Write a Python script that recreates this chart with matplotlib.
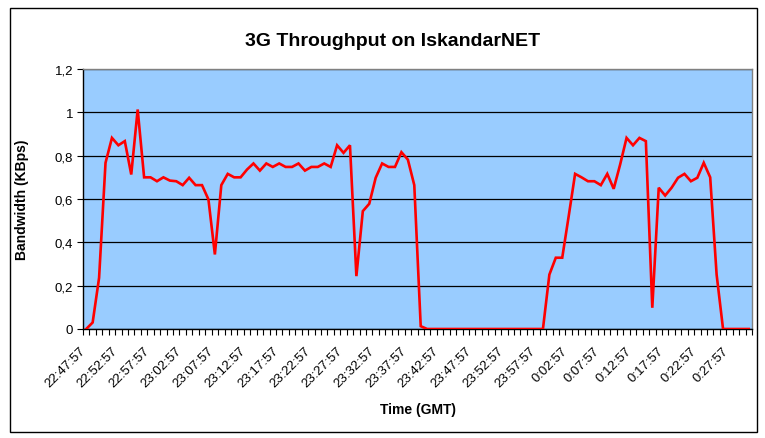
import numpy as np
import matplotlib
matplotlib.use("Agg")
import matplotlib.pyplot as plt
from matplotlib.patches import Rectangle
import matplotlib.transforms as mtransforms

plt.rcParams['font.family'] = ['Liberation Sans', 'DejaVu Sans']

# ---- data (one point per minute, starting 22:47:57) ----
bandwidth = [
    0.0, 0.03, 0.236, 0.767, 0.882, 0.848, 0.867, 0.713, 1.013, 0.70,
    0.70, 0.682, 0.70, 0.685, 0.682, 0.664, 0.698, 0.664, 0.664, 0.598,
    0.344, 0.664, 0.716, 0.70, 0.70, 0.736, 0.764, 0.731, 0.764, 0.748,
    0.764, 0.748, 0.748, 0.764, 0.731, 0.748, 0.748, 0.764, 0.748, 0.848,
    0.813, 0.848, 0.244, 0.544, 0.578, 0.698, 0.764, 0.748, 0.748, 0.816,
    0.782, 0.664, 0.013,
    0.0, 0.0, 0.0, 0.0, 0.0, 0.0, 0.0, 0.0, 0.0, 0.0,
    0.0, 0.0, 0.0, 0.0, 0.0, 0.0, 0.0, 0.0, 0.0,
    0.251, 0.329, 0.329, 0.52, 0.716, 0.70, 0.682, 0.682, 0.664, 0.716,
    0.647, 0.759, 0.882, 0.848, 0.882, 0.867, 0.098, 0.652, 0.616, 0.652,
    0.698, 0.716, 0.682, 0.698, 0.767, 0.70, 0.251,
    0.0, 0.0, 0.0, 0.0, 0.0,
]
time_labels = [
    "22:47:57", "22:52:57", "22:57:57", "23:02:57", "23:07:57", "23:12:57",
    "23:17:57", "23:22:57", "23:27:57", "23:32:57", "23:37:57", "23:42:57",
    "23:47:57", "23:52:57", "23:57:57", "0:02:57", "0:07:57", "0:12:57",
    "0:17:57", "0:22:57", "0:27:57",
]
label_step = 5
y_ticks = [0, 0.2, 0.4, 0.6, 0.8, 1.0, 1.2]
y_tick_labels = ["0", "0,2", "0,4", "0,6", "0,8", "1", "1,2"]

W, H = 765, 439
fig = plt.figure(figsize=(W / 100, H / 100), dpi=100)
fig.patch.set_facecolor('white')

# outer chart border
fig.patches.append(Rectangle((10 / W, 1 - 433 / H), (757 - 10) / W, (433 - 9) / H,
                             transform=fig.transFigure, fill=False,
                             edgecolor='black', linewidth=1.0))

left, right, top, bottom = 83, 752, 70, 330
ax = fig.add_axes([left / W, 1 - bottom / H, (right - left) / W, (bottom - top) / H])
ax.set_facecolor('#99CCFF')

n = len(bandwidth)
x = np.arange(n)
ax.plot(x, bandwidth, color='#FF0000', linewidth=1.9, solid_joinstyle='miter', zorder=3)

ax.set_xlim(-0.5, n - 0.5)
ax.set_ylim(0, 1.2)

# gridlines
ax.set_yticks(y_ticks)
ax.set_yticklabels(y_tick_labels, fontsize=9.5)
ax.yaxis.grid(True, color='black', linewidth=0.9)
ax.set_axisbelow(True)
ax.tick_params(axis='y', direction='out', length=4, width=0.8, pad=3)

# tick marks at category boundaries, labels at categories
ax.set_xticks(np.arange(-0.5, n, 1.0))
ax.set_xticklabels([])
ax.tick_params(axis='x', which='major', direction='out', length=4, width=0.8)
label_pos = np.arange(0, len(time_labels) * label_step, label_step)
ax.set_xticks(label_pos, minor=True)
ax.set_xticklabels(time_labels, minor=True, rotation=45, ha='right', va='center',
                   rotation_mode='anchor', fontsize=9.5)
ax.tick_params(axis='x', which='minor', length=0, pad=14)
offset = mtransforms.ScaledTranslation(-3 / 100, 0, fig.dpi_scale_trans)
for lab in ax.get_xticklabels(minor=True):
    lab.set_transform(lab.get_transform() + offset)

for s in ['left', 'bottom']:
    ax.spines[s].set_color('black')
    ax.spines[s].set_linewidth(1.0)
for s in ['top', 'right']:
    ax.spines[s].set_color('#808080')
    ax.spines[s].set_linewidth(1.0)

fig.text(393 / W, 1 - 41 / H, "3G Throughput on IskandarNET", ha='center', va='center',
         fontsize=14, fontweight='bold')
fig.text(22 / W, 1 - 200 / H, "Bandwidth (KBps)", ha='center', va='center',
         rotation=90, fontsize=10, fontweight='bold')
fig.text(418 / W, 1 - 410 / H, "Time (GMT)", ha='center', va='center',
         fontsize=10, fontweight='bold')

fig.savefig("out.png", dpi=100)
